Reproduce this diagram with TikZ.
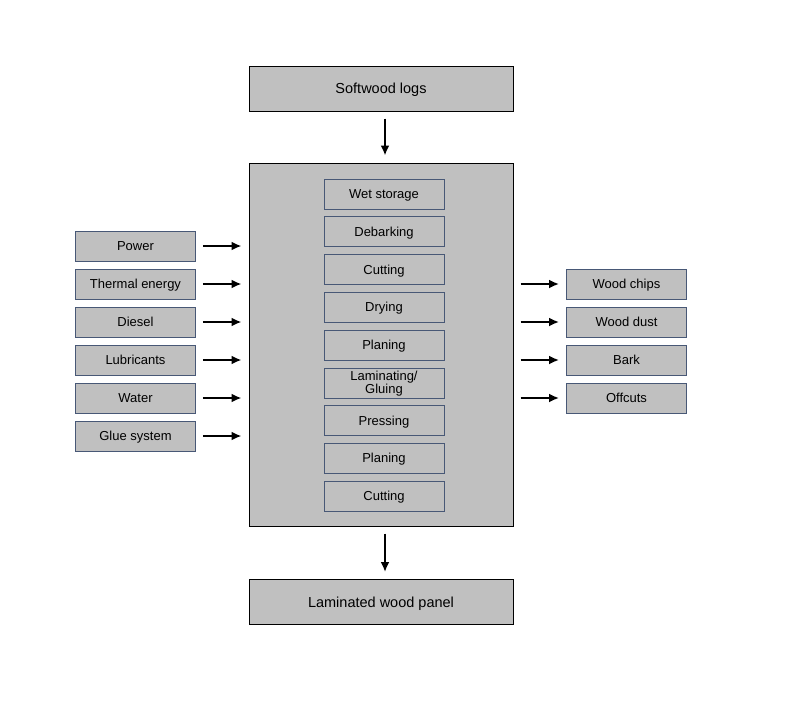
\documentclass[tikz,border=0pt]{standalone}
\usepackage{fontspec}
\setmainfont{Liberation Sans}
\usetikzlibrary{arrows.meta,calc}

\definecolor{boxgrey}{RGB}{192,192,192}
\definecolor{edgeblue}{RGB}{72,88,118}

\tikzset{
  bigbox/.style={draw=black, line width=1pt, fill=boxgrey, minimum width=264pt,
    minimum height=45pt, inner sep=0pt, text height=11.5pt, text depth=1pt,
    font=\fontsize{14.5}{15}\selectfont},
  smallbox/.style={draw=edgeblue, line width=0.9pt, fill=boxgrey, minimum width=120pt,
    minimum height=30pt, inner sep=0pt, align=center, font=\fontsize{13}{11.5}\selectfont},
  oneline/.style={text height=10.5pt, text depth=1.5pt},
  flow/.style={-{Latex[length=10pt,width=9pt]}, line width=2.8pt,
    shorten <=7pt, shorten >=7pt}
}

\begin{document}
\begin{tikzpicture}[x=1pt,y=-1pt]
  \useasboundingbox (0,0) rectangle (800,720);

  \node[bigbox] (logs) at (381,88.5) {Softwood logs};
  \node[draw=black, line width=1pt, fill=boxgrey, minimum width=264pt,
        minimum height=363pt] (proc) at (381,344.5) {};
  \node[bigbox] (panel) at (381,602) {Laminated wood panel};

  % process steps
  \foreach \lbl [count=\i] in {Wet storage, Debarking, Cutting, Drying, Planing}
    \node[smallbox,oneline] (step\i) at (384,{194+37.75*(\i-1)}) {\lbl};
  \node[smallbox] (step6) at (384,383.5) {Laminating/\\Gluing};
  \foreach \lbl [count=\i from 7] in {Pressing, Planing, Cutting}
    \node[smallbox,oneline] (step\i) at (384,{194+37.75*(\i-1)}) {\lbl};

  % inputs
  \foreach \lbl [count=\i] in {Power, Thermal energy, Diesel, Lubricants, Water, Glue system}
    \node[smallbox,oneline] (in\i) at (135.5,{246+38*(\i-1)}) {\lbl};

  % outputs
  \foreach \lbl [count=\i] in {Wood chips, Wood dust, Bark, Offcuts}
    \node[smallbox,oneline] (out\i) at (626.5,{284+38*(\i-1)}) {\lbl};

  \draw[flow] (logs.south -| 385,0) -- (proc.north -| 385,0);
  \draw[flow] (proc.south -| 385,0) -- (panel.north -| 385,0);

  \foreach \i in {1,...,6}
    \draw[flow] (in\i.east) -- (in\i.east -| proc.west);
  \foreach \i in {1,...,4}
    \draw[flow] (out\i.west -| proc.east) -- (out\i.west);
\end{tikzpicture}
\end{document}
